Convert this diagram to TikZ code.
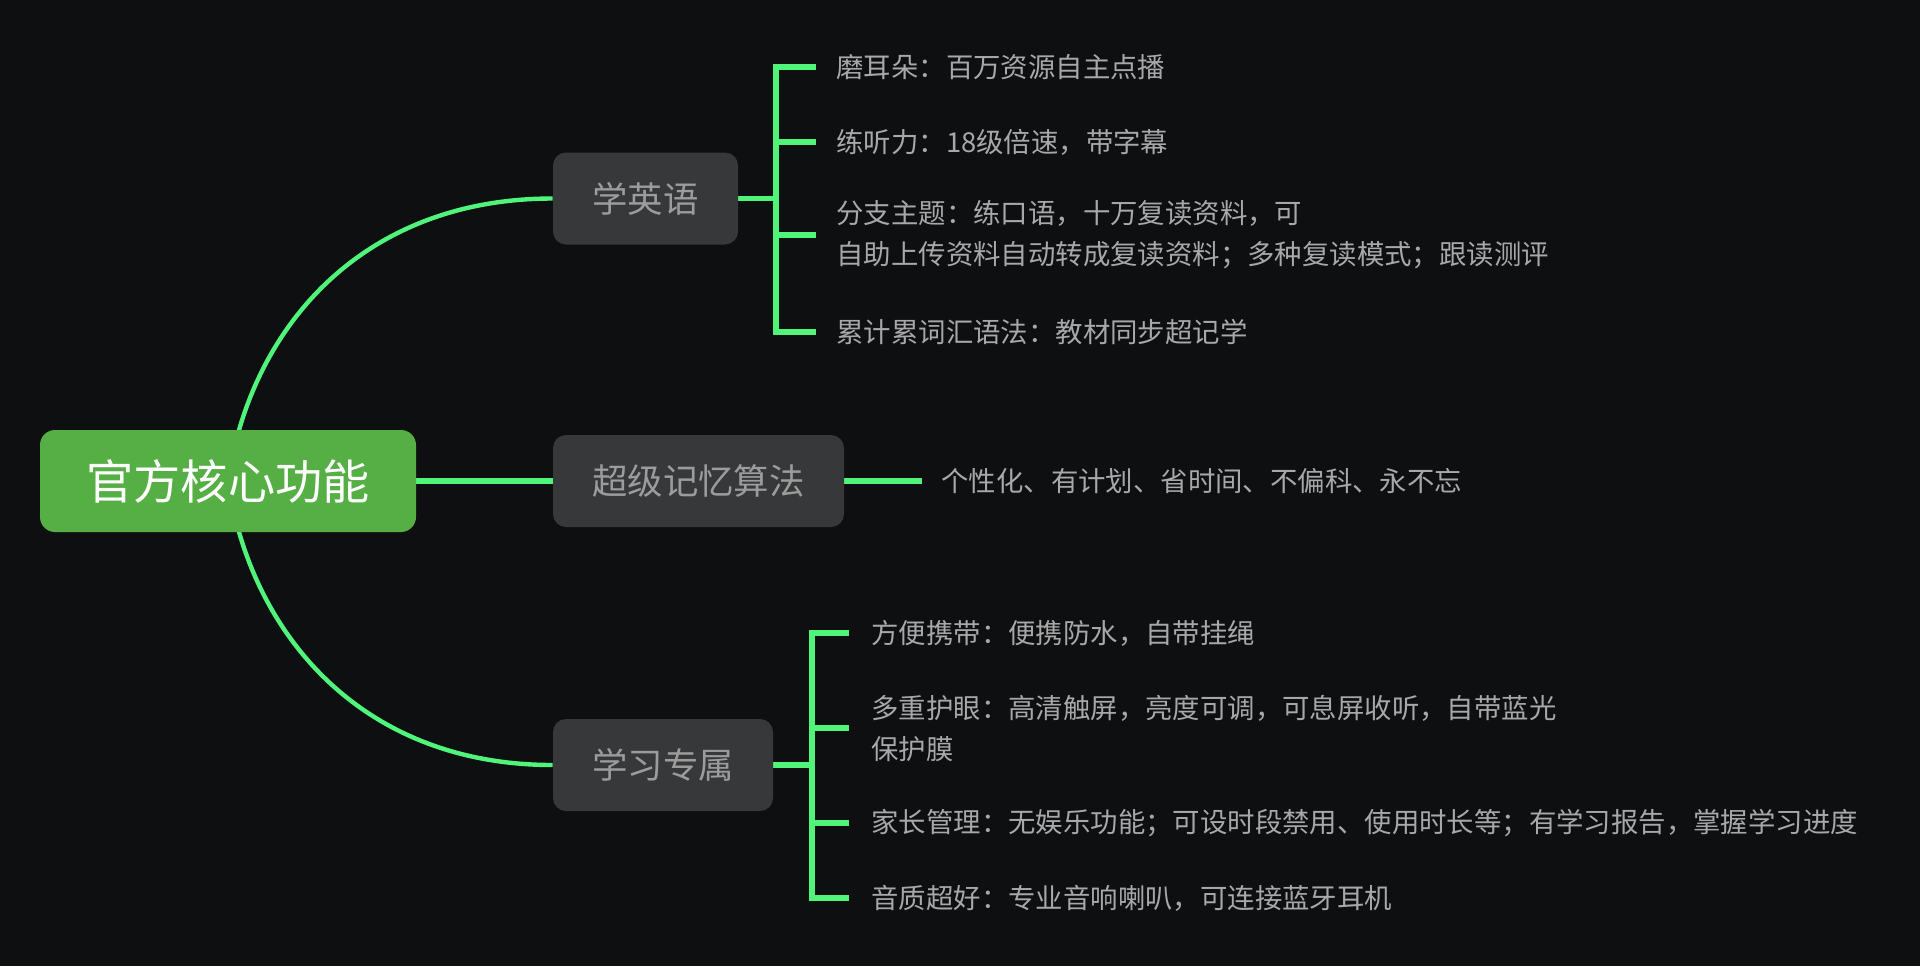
\documentclass[tikz,border=0pt]{standalone}
\usepackage{fontspec}
\setmainfont{Noto Sans CJK SC}
\definecolor{bg}{HTML}{0E0F11}
\definecolor{lgreen}{HTML}{50F47B}
\definecolor{rootgreen}{HTML}{55AF44}
\definecolor{nodegray}{HTML}{37383A}
\definecolor{nodetext}{HTML}{9C9C9C}
\definecolor{leaftext}{HTML}{A8A8A8}
\pgfdeclarelayer{back}
\pgfsetlayers{back,main}
\tikzset{
  rootbox/.style={fill=rootgreen, rounded corners=7.5pt, text=white, inner sep=0pt,
    minimum width=188pt, minimum height=51pt, font=\fontsize{23.6}{28}\selectfont},
  topicbox/.style={fill=nodegray, rounded corners=6.5pt, text=nodetext, inner sep=0pt,
    minimum height=46pt, font=\fontsize{17.7}{22}\selectfont},
  leaf/.style={anchor=west, inner sep=0pt, text=leaftext, align=left,
    font=\fontsize{13.7}{20.5}\selectfont},
  curveline/.style={draw=lgreen, line width=2.2pt},
  brline/.style={draw=lgreen, line width=2.6pt, line join=miter},
}
\begin{document}
\begin{tikzpicture}[x=0.5pt,y=-0.5pt]
\useasboundingbox (0,0) rectangle (1920,966);

% nodes
\node[rootbox] (root) at (228,481) {官方核心功能};
\node[topicbox, minimum width=92.5pt] (en) at (645.5,198.5) {学英语};
\node[topicbox, minimum width=145.5pt] (mem) at (698.5,481) {超级记忆算法};
\node[topicbox, minimum width=110pt] (study) at (663,765) {学习专属};

% leaves of 学英语
\node[leaf] (e1) at (836,67) {磨耳朵：百万资源自主点播};
\node[leaf] (e2) at (836,142) {练听力：18级倍速，带字幕};
\node[leaf] (e3) at (836,235) {分支主题：练口语，十万复读资料，可\\自助上传资料自动转成复读资料；多种复读模式；跟读测评};
\node[leaf] (e4) at (836,332) {累计累词汇语法：教材同步超记学};

% leaf of 超级记忆算法
\node[leaf] (m1) at (941,481) {个性化、有计划、省时间、不偏科、永不忘};

% leaves of 学习专属
\node[leaf] (s1) at (871,633) {方便携带：便携防水，自带挂绳};
\node[leaf] (s2) at (871,728) {多重护眼：高清触屏，亮度可调，可息屏收听，自带蓝光\\保护膜};
\node[leaf] (s3) at (871,823) {家长管理：无娱乐功能；可设时段禁用、使用时长等；有学习报告，掌握学习进度};
\node[leaf] (s4) at (871,898) {音质超好：专业音响喇叭，可连接蓝牙耳机};

% bracket coordinates
\coordinate (eb1) at (776,67);
\coordinate (eb2) at (776,142);
\coordinate (eb3) at (776,235);
\coordinate (eb4) at (776,332);
\coordinate (ebm) at (776,198.5);
\coordinate (sb1) at (812,633);
\coordinate (sb2) at (812,728);
\coordinate (sb3) at (812,823);
\coordinate (sb4) at (812,898);
\coordinate (sbm) at (812,765);

\begin{pgfonlayer}{back}
\fill[bg] (0,0) rectangle (1920,966);
% curves from the central topic
\draw[curveline] (root.center) .. controls (250,330) and (360,198.5) .. (en.west);
\draw[curveline] (root.center) .. controls (250,632) and (360,765) .. (study.west);
\draw[brline] (root.east) -- (mem.west);
% 学英语 bracket
\draw[brline] (en.east) -- (ebm);
\draw[brline] ([xshift=-10pt]e1.west) -- (eb1) -- (eb4) -- ([xshift=-10pt]e4.west);
\draw[brline] (eb2) -- ([xshift=-10pt]e2.west);
\draw[brline] (eb3) -- ([xshift=-10pt]e3.west);
% 超级记忆算法
\draw[brline] (mem.east) -- ([xshift=-9.5pt]m1.west);
% 学习专属 bracket
\draw[brline] (study.east) -- (sbm);
\draw[brline] ([xshift=-11pt]s1.west) -- (sb1) -- (sb4) -- ([xshift=-11pt]s4.west);
\draw[brline] (sb2) -- ([xshift=-11pt]s2.west);
\draw[brline] (sb3) -- ([xshift=-11pt]s3.west);
\end{pgfonlayer}
\end{tikzpicture}
\end{document}
